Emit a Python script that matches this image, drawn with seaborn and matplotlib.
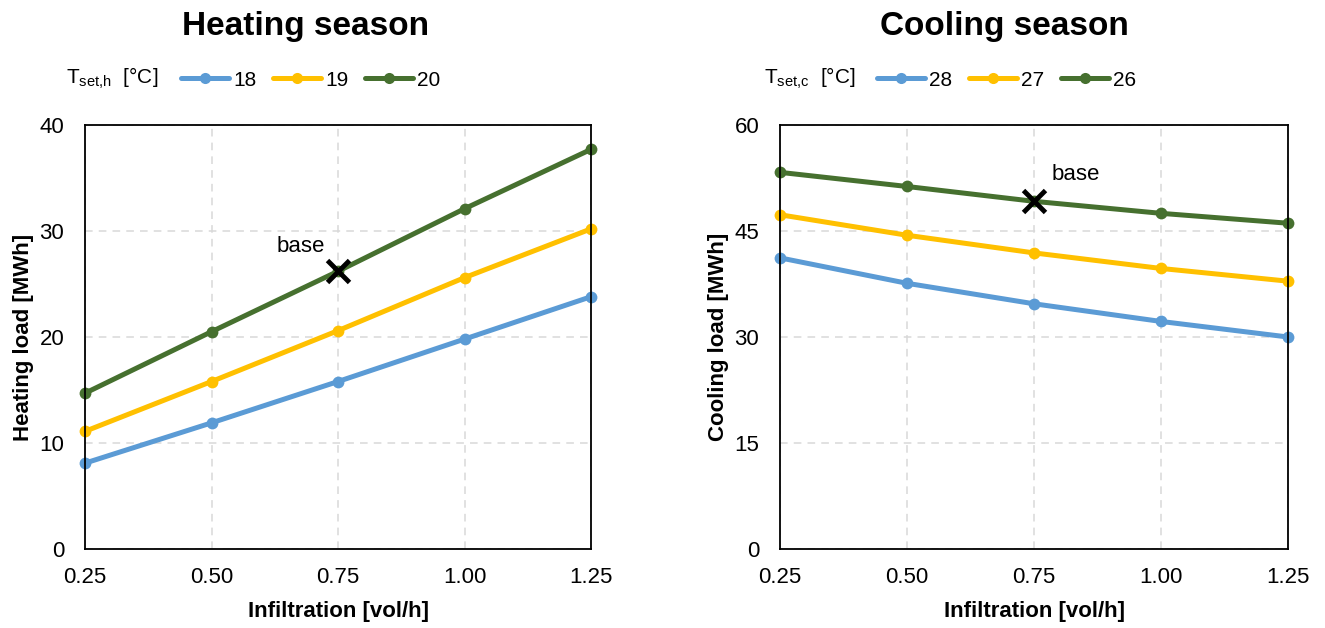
import matplotlib
matplotlib.use("Agg")
import matplotlib.pyplot as plt
import seaborn as sns
import pandas as pd
from matplotlib.lines import Line2D

infiltration = [0.25, 0.50, 0.75, 1.00, 1.25]

heat_labels = ["18", "19", "20"]
heat_18 = [8.1, 11.9, 15.8, 19.8, 23.8]
heat_19 = [11.1, 15.8, 20.6, 25.6, 30.2]
heat_20 = [14.7, 20.5, 26.2, 32.1, 37.7]

cool_labels = ["28", "27", "26"]
cool_28 = [41.2, 37.6, 34.7, 32.2, 30.0]
cool_27 = [47.3, 44.4, 41.9, 39.7, 37.9]
cool_26 = [53.3, 51.3, 49.2, 47.5, 46.1]

base_heat = (0.75, 26.2)
base_cool = (0.75, 49.2)

colors = ["#5B9BD5", "#FFC000", "#46702F"]

sns.set_theme(style="white")
plt.rcParams["font.family"] = ["Liberation Sans", "DejaVu Sans"]
plt.rcParams["mathtext.fontset"] = "custom"
plt.rcParams["mathtext.rm"] = "Liberation Sans"
plt.rcParams["text.color"] = "black"
plt.rcParams["axes.labelcolor"] = "black"

W, H = 1325, 628
fig = plt.figure(figsize=(W / 100, H / 100), dpi=100)
ax1 = fig.add_axes([85 / W, (H - 549) / H, 506 / W, 424 / H])
ax2 = fig.add_axes([780 / W, (H - 549) / H, 508 / W, 424 / H])

FS = 16


def long_df(labels, series):
    rows = []
    for lab, vals in zip(labels, series):
        for x, y in zip(infiltration, vals):
            rows.append({"x": x, "y": y, "s": lab})
    return pd.DataFrame(rows)


def draw(ax, labels, series, ymax, yticks, ylabel, title, base, base_text_off,
         leg_x, title_x, legtitle, legtitle_x):
    df = long_df(labels, series)
    sns.lineplot(data=df, x="x", y="y", hue="s", hue_order=labels,
                 palette=dict(zip(labels, colors)), marker="o", markersize=8.5,
                 markeredgewidth=0, linewidth=3.6, ax=ax, legend=False, clip_on=False)
    ax.set_xlim(0.25, 1.25)
    ax.set_ylim(0, ymax)
    ax.set_xticks(infiltration)
    ax.set_xticklabels([f"{v:.2f}" for v in infiltration])
    ax.set_yticks(yticks)
    ax.tick_params(axis="x", labelsize=FS, length=0, pad=13, colors="black")
    ax.tick_params(axis="y", labelsize=FS, length=0, pad=15, colors="black")
    ax.grid(True, linestyle=(0, (5, 4)), color="#D9D9D9", linewidth=1.1)
    ax.set_axisbelow(True)
    for sp in ax.spines.values():
        sp.set_color("black")
        sp.set_linewidth(1.3)
    ax.set_xlabel("Infiltration [vol/h]", fontsize=FS, fontweight="bold", labelpad=9)
    ax.set_ylabel(ylabel, fontsize=FS, fontweight="bold", labelpad=4)
    ax.plot([base[0]], [base[1]], marker="x", color="black", markersize=16,
            markeredgewidth=3.5, linestyle="none", zorder=5)
    ax.annotate("base", xy=base, xytext=base_text_off, textcoords="offset points",
                fontsize=FS, ha="center", va="center")
    fig.text(title_x / W, 1 - 27 / H, title, fontsize=24, fontweight="bold",
             ha="center", va="center")
    handles = [Line2D([0], [0], color=c, marker="o", markersize=8, linewidth=3.6,
                      markeredgewidth=0) for c in colors]
    fig.legend(handles, labels, loc="center left", ncol=3,
               bbox_to_anchor=(leg_x / W, 1 - 80 / H), frameon=False, fontsize=15,
               handlelength=2.3, handletextpad=0.2, columnspacing=0.8,
               borderaxespad=0, borderpad=0)
    fig.text(legtitle_x / W, 1 - 78 / H, legtitle, fontsize=15,
             ha="left", va="center")


draw(ax1, heat_labels, [heat_18, heat_19, heat_20], 40, [0, 10, 20, 30, 40],
     "Heating load [MWh]", "Heating season", base_heat, (-27, 18),
     181, 306, r"T$_{\mathregular{set{,}h}}$  [°C]", 66)

draw(ax2, cool_labels, [cool_28, cool_27, cool_26], 60, [0, 15, 30, 45, 60],
     "Cooling load [MWh]", "Cooling season", base_cool, (30, 19),
     877, 1004, r"T$_{\mathregular{set{,}c}}$  [°C]", 764)

fig.savefig("out.png", dpi=100)
